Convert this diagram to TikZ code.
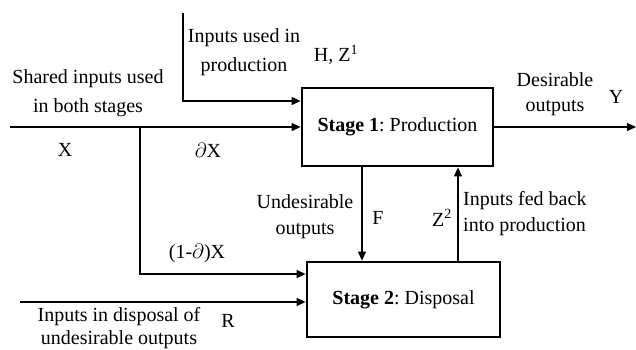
\documentclass[tikz,border=0pt]{standalone}
\usepackage{fontspec}
\setmainfont{Liberation Serif}
\usetikzlibrary{arrows.meta}
\frenchspacing
\begin{document}
\begin{tikzpicture}[x=1pt,y=-1pt,
  every node/.style={font=\fontsize{20}{24}\selectfont, inner sep=0pt},
  stagebox/.style={draw, line width=2.8pt, rectangle},
  flow/.style={line width=1.1pt, -{Triangle[length=9pt,width=8pt]}},
  lbl/.style={align=center}]
\useasboundingbox (0,0) rectangle (636,350);
% boxes
\node[stagebox, minimum width=191pt, minimum height=78pt] (s1) at (397.5,127) {\textbf{Stage 1}: Production};
\node[stagebox, minimum width=193pt, minimum height=75pt] (s2) at (403.5,299.5) {\textbf{Stage 2}: Disposal};
% coordinates
\coordinate (inX) at (10,127);
\coordinate (br) at (140,127);
\coordinate (inH) at (183,13);
\coordinate (inR) at (20,302);
\coordinate (outY) at (636,127);
% connectors
\draw[flow] (inX) -- (s1.west);
\draw[flow] (br) |- ([yshift=25.5pt]s2.west);
\draw[flow] (inH) |- ([yshift=26pt]s1.west);
\draw[flow] (inR) -- ([yshift=-2.5pt]s2.west);
\draw[flow] (s1.east) -- (outY);
\draw[flow] ([xshift=-35.5pt]s1.south) -- ([xshift=-35.5pt]s1.south |- s2.north);
\draw[flow] ([xshift=54.5pt]s2.north) -- ([xshift=54.5pt]s2.north |- s1.south);
% labels
\node[lbl] (t1) at (88,79) {Shared inputs used};
\node[lbl] (t2) at (88,108) {in both stages};
\node (tX) at (65,150) {X};
\node (tdX) at (208,150) {$\partial$X};
\node (t3) at (244,38) {Inputs used in};
\node (t4) at (244,67) {production};
\node (tH) at (336,55) {H, Z\textsuperscript{1}};
\node (t5) at (555,80) {Desirable};
\node (t6) at (555,108) {outputs};
\node (tY) at (616,97) {Y};
\node (t7) at (305,202) {Undesirable};
\node (t8) at (305,231) {outputs};
\node (tF) at (378,218) {F};
\node (tZ) at (442,218) {Z\textsuperscript{2}};
\node[anchor=west] (t9) at (463,201) {Inputs fed back};
\node[anchor=west] (t10) at (463,227) {into production};
\node (t11) at (197,253) {(1-$\partial$)X};
\node (t12) at (119,317) {Inputs in disposal of};
\node (t13) at (119,340) {undesirable outputs};
\node (tR) at (228,321) {R};
\end{tikzpicture}
\end{document}
